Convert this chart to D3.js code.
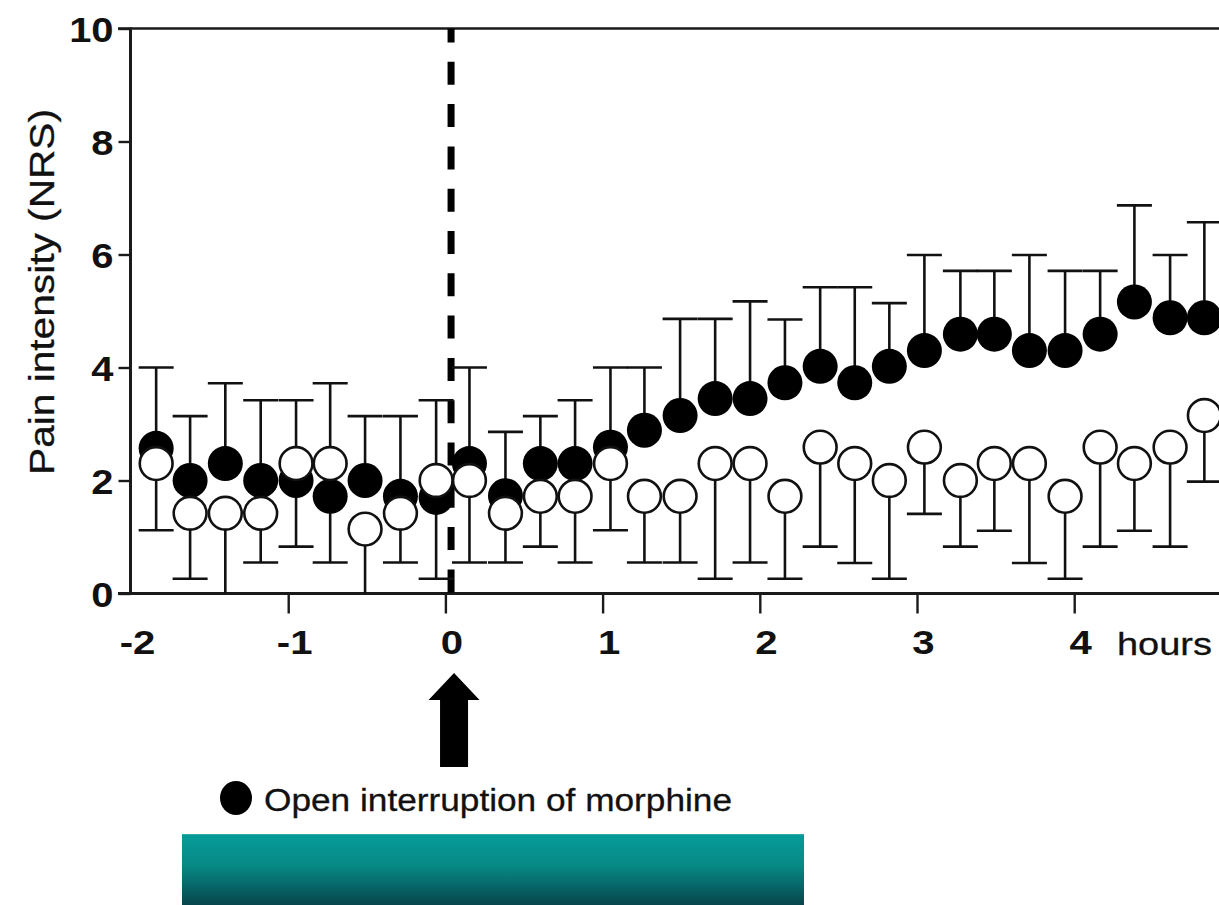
<!DOCTYPE html>
<html><head><meta charset="utf-8">
<script src="https://cdn.jsdelivr.net/npm/d3@7"></script>
<style>body{margin:0;background:#fff;} svg{display:block;}</style>
</head><body>
<svg id="chart" width="1219" height="905"></svg>
<script>
// ---- data ----
const timeHours = [-1.840, -1.624, -1.400, -1.175, -0.950, -0.733, -0.511, -0.286, -0.059,
  0.153, 0.382, 0.604, 0.825, 1.050, 1.266, 1.493, 1.716, 1.938, 2.160, 2.384, 2.604,
  2.824, 3.047, 3.276, 3.492, 3.715, 3.942, 4.165, 4.383, 4.610, 4.828];
const interruptionMean = [2.57, 2.0, 2.3, 2.0, 2.0, 1.72, 2.0, 1.72, 1.7, 2.3, 1.73, 2.3, 2.3,
  2.59, 2.89, 3.15, 3.45, 3.45, 3.73, 4.02, 3.73, 4.02, 4.3, 4.59, 4.59, 4.3, 4.3, 4.59, 5.16, 4.88, 4.88];
const interruptionUpper = [4.0, 3.14, 3.72, 3.42, 3.42, 3.72, 3.14, 3.14, 3.42, 4.0, 2.86, 3.14, 3.42,
  4.0, 4.0, 4.86, 4.86, 5.17, 4.85, 5.42, 5.42, 5.14, 5.99, 5.71, 5.71, 5.99, 5.71, 5.71, 6.87, 5.99, 6.57];
const otherMean = [2.3, 1.42, 1.42, 1.42, 2.3, 2.3, 1.14, 1.42, 2.0, 2.0, 1.42, 1.72, 1.72,
  2.3, 1.72, 1.72, 2.3, 2.3, 1.72, 2.59, 2.3, 2.0, 2.59, 2.0, 2.3, 2.3, 1.72, 2.59, 2.3, 2.59, 3.15];
const otherLower = [1.12, 0.26, 0, 0.55, 0.83, 0.55, 0, 0.55, 0.26, 0.55, 0.55, 0.83, 0.55,
  1.12, 0.55, 0.55, 0.26, 0.55, 0.26, 0.83, 0.54, 0.26, 1.41, 0.83, 1.11, 0.54, 0.26, 0.83, 1.11, 0.83, 1.98];
const xTicks = [-2, -1, 0, 1, 2, 3, 4];
const yTicks = [0, 2, 4, 6, 8, 10];
const xUnitLabel = "hours";
const yTitle = "Pain intensity (NRS)";
const legendLabel = "Open interruption of morphine";
const interruptionTime = 0.036;
const arrowTime = 0.055;

// ---- layout ----
const W = 1219, H = 905;
const FONT = "'Liberation Sans', Arial, Helvetica, sans-serif";
const x = d3.scaleLinear().domain([-2, 5]).range([131, 131 + 7 * 157.2]);
const y = d3.scaleLinear().domain([0, 10]).range([593.5, 28.5]);
const svg = d3.select('#chart');

const defs = svg.append('defs');
const grad = defs.append('linearGradient').attr('id', 'teal').attr('x1', 0).attr('x2', 0).attr('y1', 0).attr('y2', 1);
grad.append('stop').attr('offset', '0%').attr('stop-color', '#069c99');
grad.append('stop').attr('offset', '45%').attr('stop-color', '#078985');
grad.append('stop').attr('offset', '100%').attr('stop-color', '#06454b');

const data = timeHours.map((t, i) => ({t, bm: interruptionMean[i], bu: interruptionUpper[i], wm: otherMean[i], wl: otherLower[i]}));

// top frame line
svg.append('line').attr('x1', 118).attr('x2', W).attr('y1', y(10)).attr('y2', y(10))
  .attr('stroke', '#1a1a1a').attr('stroke-width', 2.6);

// x axis
const gx = svg.append('g').attr('transform', `translate(0,${y(0)})`)
  .call(d3.axisBottom(x).tickValues(xTicks).tickSize(20).tickSizeOuter(0).tickFormat(d => String(d)));
gx.select('.domain').remove();
gx.selectAll('.tick line').attr('stroke', '#1a1a1a').attr('stroke-width', 2.4)
  .attr('opacity', d => d === -2 ? 0 : 1);
gx.selectAll('.tick text').attr('x', 0).attr('y', 61).attr('dy', 0)
  .attr('transform', 'translate(6,0) scale(1.18,1)')
  .style('font-family', FONT).style('font-size', '34px').style('font-weight', 'bold').attr('fill', '#111');
svg.append('line').attr('x1', 118).attr('x2', W).attr('y1', y(0)).attr('y2', y(0))
  .attr('stroke', '#1a1a1a').attr('stroke-width', 3);

// y axis
const gy = svg.append('g').attr('transform', `translate(130.5,0)`)
  .call(d3.axisLeft(y).tickValues(yTicks).tickSize(12).tickSizeOuter(0).tickFormat(d => String(d)));
gy.select('.domain').remove();
gy.selectAll('.tick line').attr('stroke', '#1a1a1a').attr('stroke-width', 2.4);
gy.selectAll('.tick text').attr('x', 0).attr('dy', '0.36em')
  .attr('transform', 'translate(-17,0) scale(1.14,1)')
  .style('font-family', FONT).style('font-size', '35px').style('font-weight', 'bold').attr('fill', '#111');
svg.append('line').attr('x1', 130.5).attr('x2', 130.5).attr('y1', y(10) - 1).attr('y2', y(0) + 1.5)
  .attr('stroke', '#1a1a1a').attr('stroke-width', 3);

// axis titles
svg.append('text').attr('x', 1117).attr('y', 655).text(xUnitLabel)
  .attr('textLength', 95).attr('lengthAdjust', 'spacingAndGlyphs')
  .style('font-family', FONT).style('font-size', '32px').attr('fill', '#111')
  .attr('stroke', '#111').attr('stroke-width', 0.3);
svg.append('text').attr('transform', 'translate(54,292) rotate(-90)').attr('text-anchor', 'middle')
  .text(yTitle).attr('textLength', 366).attr('lengthAdjust', 'spacingAndGlyphs')
  .style('font-family', FONT).style('font-size', '35px').attr('fill', '#111')
  .attr('stroke', '#111').attr('stroke-width', 0.3);

// dashed interruption line
svg.append('line').attr('x1', x(interruptionTime)).attr('x2', x(interruptionTime))
  .attr('y1', y(10)).attr('y2', y(0))
  .attr('stroke', '#000').attr('stroke-width', 7).attr('stroke-dasharray', '23 19.3').attr('stroke-dashoffset', 9);

// error bars
const CAP = 17.5;
const eb = svg.append('g').attr('stroke', '#111').attr('stroke-width', 2.6);
data.forEach(d => {
  const cx = x(d.t);
  eb.append('line').attr('x1', cx).attr('x2', cx).attr('y1', y(d.bm)).attr('y2', y(d.bu));
  eb.append('line').attr('x1', cx - CAP).attr('x2', cx + CAP).attr('y1', y(d.bu)).attr('y2', y(d.bu));
  eb.append('line').attr('x1', cx).attr('x2', cx).attr('y1', y(d.wm)).attr('y2', y(d.wl));
  if (d.wl > 0) eb.append('line').attr('x1', cx - CAP).attr('x2', cx + CAP).attr('y1', y(d.wl)).attr('y2', y(d.wl));
});

// filled circles
svg.append('g').selectAll('circle').data(data).join('circle')
  .attr('cx', d => x(d.t)).attr('cy', d => y(d.bm)).attr('r', 17.5).attr('fill', '#000');
// open circles
svg.append('g').selectAll('circle').data(data).join('circle')
  .attr('cx', d => x(d.t)).attr('cy', d => y(d.wm)).attr('r', 16.4)
  .attr('fill', '#fff').attr('stroke', '#111').attr('stroke-width', 2.6);

// arrow
const ax = x(arrowTime);
svg.append('path').attr('fill', '#000').attr('d',
  `M${ax},673 L${ax + 25.5},700 L${ax + 14},700 L${ax + 14},767 L${ax - 14},767 L${ax - 14},700 L${ax - 25.5},700 Z`);

// legend
svg.append('ellipse').attr('cx', 236).attr('cy', 798).attr('rx', 16).attr('ry', 17).attr('fill', '#000');
svg.append('text').attr('x', 264).attr('y', 811).text(legendLabel)
  .attr('textLength', 468).attr('lengthAdjust', 'spacingAndGlyphs')
  .style('font-family', FONT).style('font-size', '31px').attr('fill', '#111')
  .attr('stroke', '#111').attr('stroke-width', 0.3);

// teal bar
svg.append('rect').attr('x', 182).attr('y', 834).attr('width', 622).attr('height', H - 834).attr('fill', 'url(#teal)');
svg.append('line').attr('x1', 182).attr('x2', 804).attr('y1', 834.5).attr('y2', 834.5).attr('stroke', '#2faaa6').attr('stroke-width', 1);
</script>
</body></html>
